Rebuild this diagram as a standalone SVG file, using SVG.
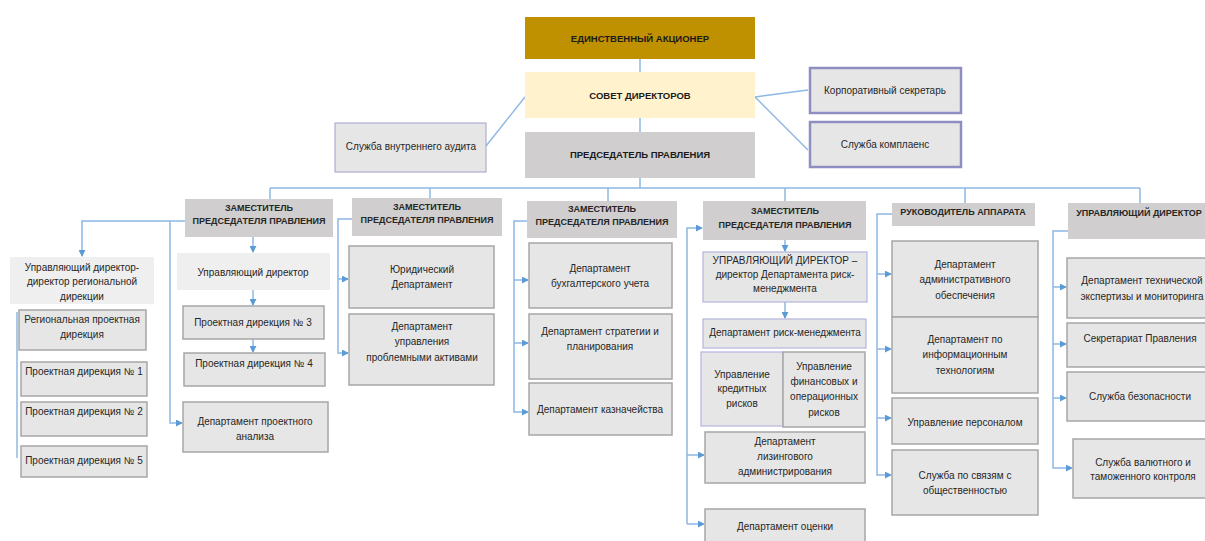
<svg xmlns="http://www.w3.org/2000/svg" width="1205" height="541" viewBox="0 0 1205 541">
<defs>
<marker id="ah" viewBox="0 0 8 8" refX="7" refY="4" markerWidth="7" markerHeight="7" markerUnits="userSpaceOnUse" orient="auto">
<path d="M0,0 L8,4 L0,8 Z" fill="#5b9bd5"/>
</marker>
<style>
.t{font-family:"Liberation Sans",Arial,sans-serif;font-size:10px;fill:#262626;text-anchor:middle}
.h{font-family:"Liberation Sans",Arial,sans-serif;font-size:9px;font-weight:bold;fill:#262626;text-anchor:middle}
.top{font-family:"Liberation Sans",Arial,sans-serif;font-size:9.5px;font-weight:bold;fill:#1a1a1a;text-anchor:middle}
.hd{fill:#d0cece}
.bx{fill:#e7e6e6;stroke:#a6a6a6;stroke-width:1.5}
.bp{fill:#e7e6e6;stroke:#b4b4dc;stroke-width:1.2}
.lt{fill:#efefef}
.side{fill:#e7e6e6;stroke:#8e8ec0;stroke-width:2.5}
.c{fill:none;stroke:#8db8e4;stroke-width:1.5}
.a{fill:none;stroke:#8db8e4;stroke-width:1.5;marker-end:url(#ah)}
</style>
</defs>
<rect width="1205" height="541" fill="#ffffff"/>

<g id="connectors">
<path class="c" d="M640,59 V72"/>
<path class="c" d="M640,118 V132"/>
<path class="c" d="M640,178 V188"/>
<path class="c" d="M525,97 L486,146"/>
<path class="c" d="M755,97 L808,90"/>
<path class="c" d="M755,97 L808,150"/>
<path class="c" d="M270,188 H1140"/>
<path class="c" d="M270,188 V199"/>
<path class="c" d="M430,188 V198"/>
<path class="c" d="M608,188 V201"/>
<path class="c" d="M785,188 V201"/>
<path class="c" d="M965,188 V203"/>
<path class="c" d="M1140,188 V203"/>
<!-- col1 -->
<path class="a" d="M185,221 H82 V256"/>
<path class="a" d="M170,221 V423 H182"/>
<path class="a" d="M253,237 V252"/>
<path class="a" d="M253,290 V305"/>
<path class="a" d="M253,339 V352"/>
<path class="c" d="M17,312 V458"/>
<!-- col2 -->
<path class="a" d="M352,219 H338 V353 H348"/>
<path class="a" d="M338,279 H348"/>
<!-- col3 -->
<path class="a" d="M527,221 H514 V412 H528"/>
<path class="a" d="M514,280 H528"/>
<path class="a" d="M514,343 H528"/>
<!-- col4 -->
<path class="a" d="M687,524 V228 H702"/>
<path class="a" d="M687,455 H704"/>
<path class="a" d="M687,524 H704"/>
<path class="a" d="M785,240 V251"/>
<path class="a" d="M785,302 V318"/>
<!-- col5 -->
<path class="a" d="M892,214 H877 V475 H891"/>
<path class="a" d="M877,274 H891"/>
<path class="a" d="M877,349 H891"/>
<path class="a" d="M877,418 H891"/>
<!-- col6 -->
<path class="a" d="M1068,231 H1053 V468 H1072"/>
<path class="a" d="M1053,287 H1066"/>
<path class="a" d="M1053,344 H1066"/>
<path class="a" d="M1053,398 H1066"/>
</g>

<g id="n-shareholder"><rect x="525" y="17" width="230" height="42" fill="#bf9000"/><text class="top" x="640" y="42" font-size="10">ЕДИНСТВЕННЫЙ АКЦИОНЕР</text></g>
<g id="n-board"><rect x="525" y="72" width="230" height="46" fill="#fff2cc"/><text class="top" x="640" y="99">СОВЕТ ДИРЕКТОРОВ</text></g>
<g id="n-chairman"><rect x="525" y="132" width="230" height="46" fill="#d0cece"/><text class="top" x="640" y="158">ПРЕДСЕДАТЕЛЬ ПРАВЛЕНИЯ</text></g>
<g id="n-audit"><rect x="335" y="123" width="151" height="49" fill="#e7e6e6" stroke="#a0a0c8" stroke-width="1"/><text class="t" x="411" y="150">Служба внутреннего аудита</text></g>
<g id="n-corpsec"><rect x="810" y="68" width="151" height="45" class="side"/><text class="t" x="885" y="94">Корпоративный  секретарь</text></g>
<g id="n-compliance"><rect x="810" y="122" width="151" height="45" class="side"/><text class="t" x="885" y="148">Служба комплаенс</text></g>

<!-- column 1 -->
<g id="n-dep1"><rect x="185" y="199" width="148" height="38" class="hd"/><text class="h" x="259" y="211">ЗАМЕСТИТЕЛЬ</text><text class="h" x="259" y="224">ПРЕДСЕДАТЕЛЯ ПРАВЛЕНИЯ</text></g>
<g id="n-regdir"><rect x="10" y="257" width="144" height="47" class="lt"/><text class="t" x="82" y="271">Управляющий директор-</text><text class="t" x="82" y="285">директор региональной</text><text class="t" x="82" y="300">дирекции</text></g>
<g id="n-reg"><rect x="19" y="310" width="127" height="40" class="bx"/><text class="t" x="82" y="323">Региональная проектная</text><text class="t" x="82" y="338">дирекция</text></g>
<g id="n-pd1"><rect x="21" y="362" width="126" height="34" class="bx"/><text class="t" x="84" y="375">Проектная дирекция № 1</text></g>
<g id="n-pd2"><rect x="21" y="402" width="126" height="34" class="bx"/><text class="t" x="84" y="415">Проектная дирекция № 2</text></g>
<g id="n-pd5"><rect x="21" y="446" width="126" height="31" class="bx"/><text class="t" x="84" y="464">Проектная дирекция № 5</text></g>
<g id="n-md1"><rect x="177" y="253" width="153" height="37" class="lt"/><text class="t" x="253" y="276">Управляющий директор</text></g>
<g id="n-pd3"><rect x="183" y="306" width="141" height="33" class="bx"/><text class="t" x="253" y="326">Проектная дирекция № 3</text></g>
<g id="n-pd4"><rect x="184" y="353" width="141" height="33" class="bx"/><text class="t" x="254" y="367">Проектная дирекция № 4</text></g>
<g id="n-dpa"><rect x="183" y="402" width="145" height="50" class="bx"/><text class="t" x="255" y="425">Департамент проектного</text><text class="t" x="255" y="440">анализа</text></g>

<!-- column 2 -->
<g id="n-dep2"><rect x="352" y="198" width="150" height="38" class="hd"/><text class="h" x="427" y="210">ЗАМЕСТИТЕЛЬ</text><text class="h" x="427" y="223">ПРЕДСЕДАТЕЛЯ ПРАВЛЕНИЯ</text></g>
<g id="n-legal"><rect x="349" y="246" width="145" height="62" class="bx"/><text class="t" x="422" y="273">Юридический</text><text class="t" x="422" y="288">Департамент</text></g>
<g id="n-problem"><rect x="349" y="314" width="145" height="71" class="bx"/><text class="t" x="422" y="330">Департамент</text><text class="t" x="422" y="345">управления</text><text class="t" x="422" y="361">проблемными активами</text></g>

<!-- column 3 -->
<g id="n-dep3"><rect x="527" y="201" width="150" height="37" class="hd"/><text class="h" x="602" y="212">ЗАМЕСТИТЕЛЬ</text><text class="h" x="602" y="225">ПРЕДСЕДАТЕЛЯ ПРАВЛЕНИЯ</text></g>
<g id="n-acc"><rect x="529" y="243" width="143" height="65" class="bx"/><text class="t" x="600" y="272">Департамент</text><text class="t" x="600" y="287">бухгалтерского учета</text></g>
<g id="n-strat"><rect x="529" y="314" width="143" height="65" class="bx"/><text class="t" x="600" y="335">Департамент стратегии и</text><text class="t" x="600" y="350">планирования</text></g>
<g id="n-treas"><rect x="529" y="383" width="143" height="52" class="bx"/><text class="t" x="600" y="413">Департамент казначейства</text></g>

<!-- column 4 -->
<g id="n-dep4"><rect x="703" y="201" width="163" height="39" class="hd"/><text class="h" x="785" y="214">ЗАМЕСТИТЕЛЬ</text><text class="h" x="785" y="228">ПРЕДСЕДАТЕЛЯ ПРАВЛЕНИЯ</text></g>
<g id="n-riskmd"><rect x="703" y="252" width="164" height="50" class="bp"/><text class="t" x="785" y="264" font-size="9.5">УПРАВЛЯЮЩИЙ ДИРЕКТОР –</text><text class="t" x="785" y="278">директор Департамента риск-</text><text class="t" x="785" y="292">менеджмента</text></g>
<g id="n-risk"><rect x="703" y="319" width="163" height="29" class="bp"/><text class="t" x="785" y="336">Департамент риск-менеджмента</text></g>
<g id="n-credit"><rect x="701" y="352" width="82" height="74" class="bp"/><text class="t" x="742" y="378">Управление</text><text class="t" x="742" y="392">кредитных</text><text class="t" x="742" y="407">рисков</text></g>
<g id="n-finrisk"><rect x="783" y="352" width="82" height="75" class="bx"/><text class="t" x="824" y="370">Управление</text><text class="t" x="824" y="385">финансовых и</text><text class="t" x="824" y="400">операционных</text><text class="t" x="824" y="416">рисков</text></g>
<g id="n-leasing"><rect x="705" y="432" width="160" height="51" class="bx"/><text class="t" x="785" y="445">Департамент</text><text class="t" x="785" y="460">лизингового</text><text class="t" x="785" y="475">администрирования</text></g>
<g id="n-valuation"><rect x="705" y="509" width="160" height="40" class="bx"/><text class="t" x="785" y="530">Департамент оценки</text></g>

<!-- column 5 -->
<g id="n-office"><rect x="892" y="203" width="143" height="23" class="hd"/><text class="h" x="963" y="215">РУКОВОДИТЕЛЬ АППАРАТА</text></g>
<g id="n-admin"><rect x="892" y="241" width="146" height="76" class="bx"/><text class="t" x="965" y="268">Департамент</text><text class="t" x="965" y="283">административного</text><text class="t" x="965" y="299">обеспечения</text></g>
<g id="n-it"><rect x="892" y="317" width="146" height="76" class="bx"/><text class="t" x="965" y="343">Департамент по</text><text class="t" x="965" y="358">информационным</text><text class="t" x="965" y="374">технологиям</text></g>
<g id="n-hr"><rect x="892" y="398" width="146" height="46" class="bx"/><text class="t" x="965" y="426">Управление персоналом</text></g>
<g id="n-pr"><rect x="892" y="450" width="146" height="65" class="bx"/><text class="t" x="965" y="479">Служба по связям с</text><text class="t" x="965" y="494">общественностью</text></g>

<!-- column 6 -->
<g id="n-md6"><rect x="1068" y="203" width="145" height="36" class="hd"/><text class="h" x="1139" y="216">УПРАВЛЯЮЩИЙ ДИРЕКТОР</text></g>
<g id="n-tech"><rect x="1067" y="258" width="146" height="60" class="bx"/><text class="t" x="1142" y="284">Департамент технической</text><text class="t" x="1142" y="300">экспертизы и мониторинга</text></g>
<g id="n-secr"><rect x="1067" y="323" width="146" height="44" class="bx"/><text class="t" x="1140" y="342">Секретариат Правления</text></g>
<g id="n-sec"><rect x="1067" y="372" width="146" height="49" class="bx"/><text class="t" x="1140" y="400">Служба безопасности</text></g>
<g id="n-customs"><rect x="1073" y="439" width="140" height="59" class="bx"/><text class="t" x="1143" y="466">Служба валютного и</text><text class="t" x="1143" y="480">таможенного контроля</text></g>
</svg>
